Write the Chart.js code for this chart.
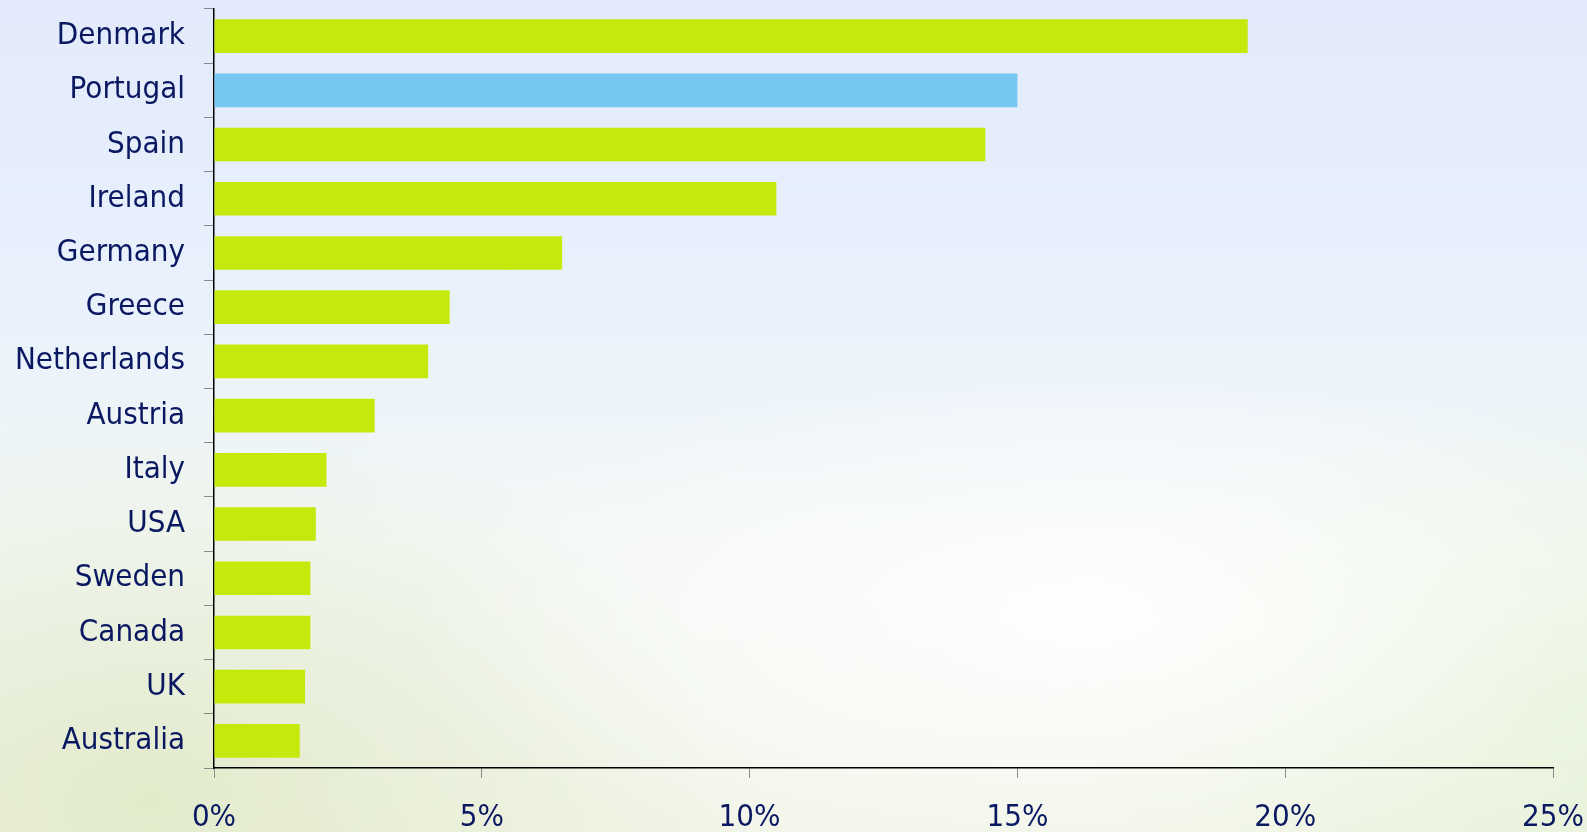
<!DOCTYPE html>
<html>
<head>
<meta charset="utf-8">
<script src="https://cdn.jsdelivr.net/npm/chart.js@4.4.0/dist/chart.umd.min.js"></script>
<style>
  html, body {
    margin: 0;
    padding: 0;
  }
  body {
    width: 1587px;
    height: 832px;
    overflow: hidden;
    background:
      radial-gradient(ellipse 700px 260px at 1100px 620px, rgba(255, 255, 255, 0.9), rgba(255, 255, 255, 0) 100%),
      radial-gradient(ellipse 600px 400px at 150px 800px, rgba(214, 226, 180, 0.55), rgba(214, 226, 180, 0) 100%),
      radial-gradient(ellipse 500px 300px at 1560px 700px, rgba(220, 240, 200, 0.6), rgba(220, 240, 200, 0) 100%),
      linear-gradient(180deg, #e3eafb 0%, #e8f1fc 35%, #f4f8f6 65%, #f2f5e8 100%);
  }
  #wrap {
    position: absolute;
    left: 0;
    top: 0;
    width: 1587px;
    height: 832px;
  }
</style>
</head>
<body>
<div id="wrap"><canvas id="myChart"></canvas></div>
<script>
const countries = [
  "Denmark", "Portugal", "Spain", "Ireland", "Germany", "Greece", "Netherlands",
  "Austria", "Italy", "USA", "Sweden", "Canada", "UK", "Australia",
];
const shares = [19.3, 15.0, 14.4, 10.5, 6.5, 4.4, 4.0, 3.0, 2.1, 1.9, 1.8, 1.8, 1.7, 1.6];
const xTicks = [0, 5, 10, 15, 20, 25];

const green = "#c5e90b";
const blue = "#76c7f2";
const textColor = "#0a1862";
const labelFont = { family: "'DejaVu Sans Condensed', 'DejaVu Sans', sans-serif", size: 31 };

const barColors = countries.map((c) => (c === "Portugal" ? blue : green));

const ctx = document.getElementById("myChart").getContext("2d");
new Chart(ctx, {
  type: "bar",
  data: {
    labels: countries,
    datasets: [
      {
        data: shares,
        backgroundColor: barColors,
        borderWidth: 0,
        barPercentage: 0.62,
        categoryPercentage: 1,
      },
    ],
  },
  options: {
    indexAxis: "y",
    responsive: true,
    maintainAspectRatio: false,
    animation: false,
    layout: {
      padding: { top: 9, right: 34, bottom: 0, left: 0 },
    },
    plugins: {
      legend: { display: false },
      tooltip: { enabled: false },
    },
    scales: {
      x: {
        min: 0,
        max: 25,
        afterBuildTicks: (scale) => {
          scale.ticks = xTicks.map((v) => ({ value: v }));
        },
        afterFit: (scale) => {
          scale.height = 64;
          scale.paddingLeft = 0;
          scale.paddingRight = 0;
        },
        grid: {
          drawOnChartArea: false,
          drawTicks: true,
          tickLength: 10,
          color: "#8a8a8a",
        },
        border: { color: "#000000", width: 1.5 },
        ticks: {
          padding: 21,
          color: textColor,
          font: labelFont,
          callback: (v) => v + "%",
        },
      },
      y: {
        afterFit: (scale) => {
          scale.width = 214;
          scale.paddingTop = 0;
          scale.paddingBottom = 0;
        },
        grid: {
          drawOnChartArea: false,
          drawTicks: true,
          tickLength: 10,
          color: "#8a8a8a",
        },
        border: { color: "#000000", width: 1.5 },
        ticks: {
          padding: 19,
          color: textColor,
          font: labelFont,
        },
      },
    },
  },
});
</script>
</body>
</html>
